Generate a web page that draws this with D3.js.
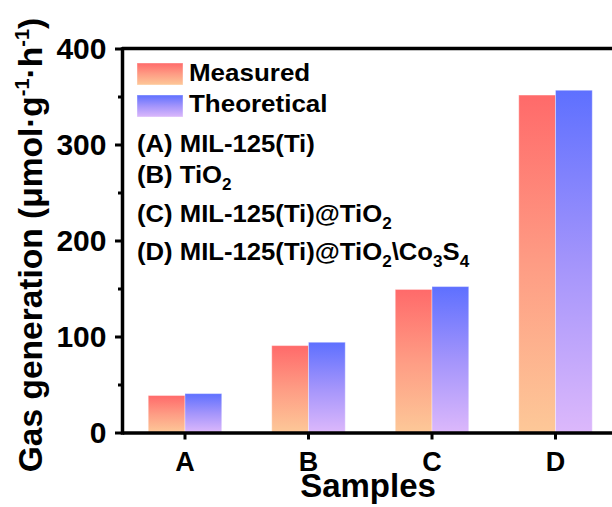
<!DOCTYPE html>
<html>
<head>
<meta charset="utf-8">
<script src="https://cdn.jsdelivr.net/npm/d3@7"></script>
<style>
  html, body { margin: 0; padding: 0; background: #fff; }
  svg { display: block; font-family: "Liberation Sans", Arial, Helvetica, sans-serif; font-weight: bold; }
</style>
</head>
<body>
<svg id="chart" width="612" height="507"></svg>
<script>
// Gas generation per sample: measured vs. theoretical (µmol·g⁻¹·h⁻¹)
const categories = ["A", "B", "C", "D"];
const measured = [38.5, 90.5, 149, 351.5];
const theoretical = [40.5, 94, 152, 356.5];
const yTicks = [0, 100, 200, 300, 400];
const yMinorTicks = [50, 150, 250, 350];
const seriesNames = ["Measured", "Theoretical"];

const svg = d3.select("#chart");
svg.append("rect").attr("width", 612).attr("height", 507).attr("fill", "#fff");

const x0 = 122;                 // left spine
const yScale = d3.scaleLinear().domain([0, 400]).range([432.5, 48.5]);
const xScale = d3.scaleBand().domain(categories)
  .range([x0, 618.5]).paddingInner(0.405).paddingOuter(0.2125);
const xSub = d3.scaleBand().domain(seriesNames).range([0, xScale.bandwidth()]);

// vertical gradients: red→peach and blue→lavender
const defs = svg.append("defs");
const grads = [
  { id: "gMeasured", top: "#ff6a6a", mid: "#fe9c84", bottom: "#fdc898" },
  { id: "gTheoretical", top: "#5e70ff", mid: "#a394fb", bottom: "#dcb8fb" }
];
grads.forEach(g => {
  const lg = defs.append("linearGradient").attr("id", g.id)
    .attr("x1", 0).attr("y1", 0).attr("x2", 0).attr("y2", 1);
  lg.append("stop").attr("offset", "0%").attr("stop-color", g.top);
  lg.append("stop").attr("offset", "50%").attr("stop-color", g.mid);
  lg.append("stop").attr("offset", "100%").attr("stop-color", g.bottom);
});

// bars
const rows = categories.map((c, i) => ({ c, vals: [measured[i], theoretical[i]] }));
const groups = svg.append("g").selectAll("g").data(rows).join("g")
  .attr("transform", d => `translate(${xScale(d.c)},0)`);
groups.selectAll("rect")
  .data(d => d.vals.map((v, k) => ({ v, k })))
  .join("rect")
  .attr("x", d => xSub(seriesNames[d.k]))
  .attr("width", xSub.bandwidth())
  .attr("y", d => yScale(d.v))
  .attr("height", d => yScale(0) - yScale(d.v))
  .attr("fill", d => `url(#${grads[d.k].id})`)
  .attr("stroke", "rgba(255,255,255,0.35)")
  .attr("stroke-width", 1);

// top spine
svg.append("line")
  .attr("x1", x0).attr("x2", 620)
  .attr("y1", yScale(400)).attr("y2", yScale(400))
  .attr("stroke", "#000").attr("stroke-width", 3.5);

// bottom axis
const xAxis = svg.append("g")
  .attr("transform", `translate(0,${yScale(0)})`)
  .call(d3.axisBottom(xScale).tickSize(7).tickSizeOuter(0).tickPadding(12));
xAxis.select(".domain").attr("stroke-width", 3.5);
xAxis.selectAll(".tick line").attr("stroke-width", 3);
xAxis.selectAll(".tick text").attr("font-size", 27).attr("fill", "#000")
  .attr("font-family", null);
xAxis.attr("font-family", null).attr("font-size", null);

// left axis, major ticks with labels
const yAxis = svg.append("g")
  .attr("transform", `translate(${x0},0)`)
  .call(d3.axisLeft(yScale).tickValues(yTicks).tickSize(7).tickSizeOuter(0).tickPadding(8.5));
yAxis.attr("font-family", null).attr("font-size", null);
yAxis.select(".domain").attr("stroke-width", 3.5).attr("stroke-linecap", "square");
yAxis.selectAll(".tick line").attr("stroke-width", 3);
yAxis.selectAll(".tick text").attr("font-size", 30).attr("fill", "#000");

// left axis, minor ticks
const yMinor = svg.append("g")
  .attr("transform", `translate(${x0},0)`)
  .call(d3.axisLeft(yScale).tickValues(yMinorTicks).tickSize(4).tickFormat(""));
yMinor.select(".domain").remove();
yMinor.selectAll(".tick line").attr("stroke-width", 3);

// axis titles
svg.append("text")
  .attr("x", 368).attr("y", 496.5)
  .attr("text-anchor", "middle").attr("font-size", 33)
  .text("Samples");

const yTitle = svg.append("text")
  .attr("transform", "translate(42,245) rotate(-90)")
  .attr("text-anchor", "middle").attr("font-size", 33.5);
yTitle.append("tspan").text("Gas generation (μmol·g");
yTitle.append("tspan").attr("font-size", 20).attr("dy", -13).text("-1");
yTitle.append("tspan").attr("dy", 13).text("·h");
yTitle.append("tspan").attr("font-size", 20).attr("dy", -13).text("-1");
yTitle.append("tspan").attr("dy", 13).text(")");

// legend
const legendRows = [
  { name: seriesNames[0], grad: grads[0].id, y: 63, base: 81 },
  { name: seriesNames[1], grad: grads[1].id, y: 95, base: 112 }
];
legendRows.forEach(r => {
  svg.append("rect")
    .attr("x", 137).attr("y", r.y).attr("width", 46).attr("height", 22)
    .attr("fill", `url(#${r.grad})`)
    .attr("stroke", "rgba(255,255,255,0.4)").attr("stroke-width", 1);
  svg.append("text")
    .attr("transform", `translate(189,${r.base}) scale(1.06,1)`)
    .attr("font-size", 24.5)
    .text(r.name);
});

// sample key; each entry is a list of [text, shift] pieces (shift>0 = subscript)
const sampleKey = [
  { base: 152, parts: [["(A) MIL-125(Ti)", 0]] },
  { base: 183, parts: [["(B) TiO", 0], ["2", 1]] },
  { base: 221.5, parts: [["(C) MIL-125(Ti)@TiO", 0], ["2", 1]] },
  { base: 259.5, parts: [["(D) MIL-125(Ti)@TiO", 0], ["2", 1], ["\\Co", 0], ["3", 1], ["S", 0], ["4", 1]] }
];
sampleKey.forEach(row => {
  const t = svg.append("text")
    .attr("transform", `translate(137,${row.base}) scale(1.07,1)`)
    .attr("font-size", 24);
  let prev = 0;
  row.parts.forEach(([s, sub]) => {
    const shift = sub ? 7 : 0;
    t.append("tspan")
      .attr("dy", shift - prev)
      .attr("font-size", sub ? 16 : null)
      .text(s);
    prev = shift;
  });
});
</script>
</body>
</html>
